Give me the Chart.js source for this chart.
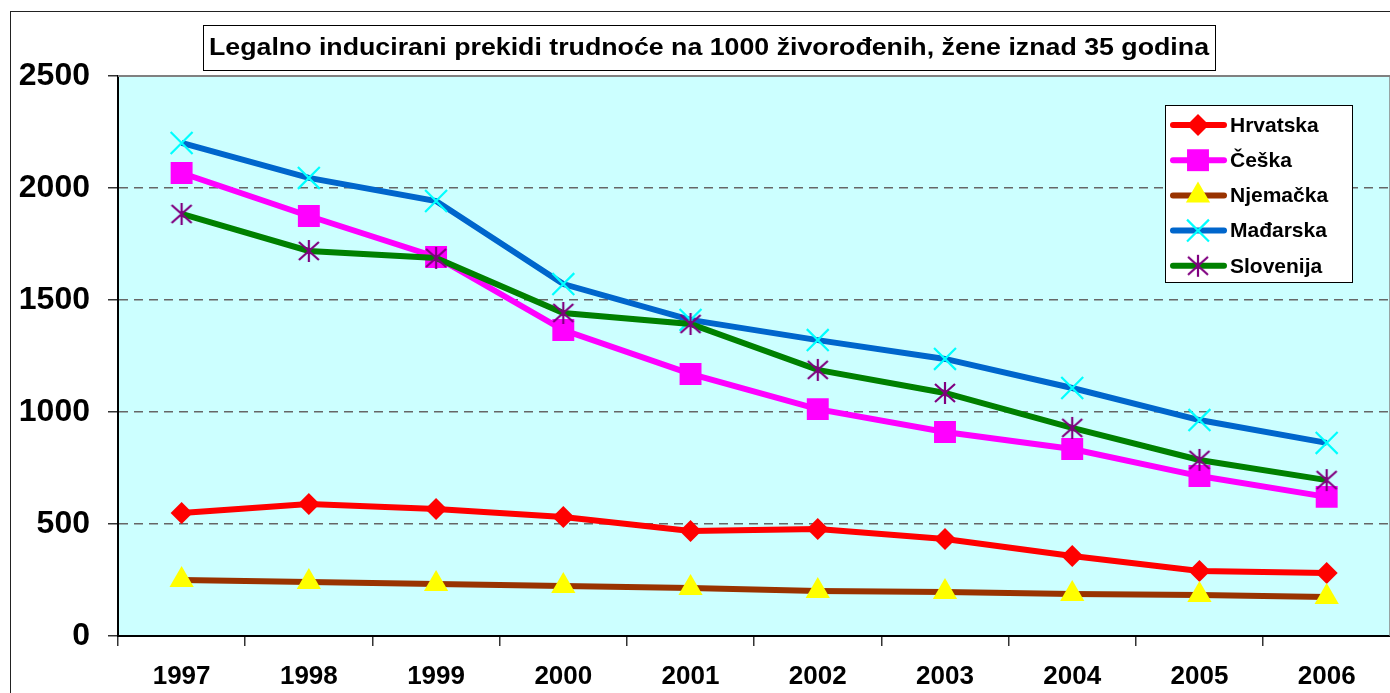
<!DOCTYPE html>
<html>
<head>
<meta charset="utf-8">
<script src="https://cdn.jsdelivr.net/npm/chart.js@4.4.0/dist/chart.umd.min.js"></script>
<style>
html,body{margin:0;padding:0;background:#fff;overflow:hidden}
#wrap{position:relative;width:1390px;height:693px;overflow:hidden}
#frame{position:absolute;left:10px;top:11px;width:1420px;height:720px;border:1.5px solid #222}
#c{position:absolute;left:0;top:0}
</style>
</head>
<body>
<div id="wrap"><div id="frame"></div><canvas id="c" width="1408" height="693"></canvas></div>
<script>
// Data
const years = ['1997','1998','1999','2000','2001','2002','2003','2004','2005','2006'];
const hrvatska  = [549, 589, 567, 531, 469, 478, 433, 357, 290, 281];
const ceska     = [2067, 1875, 1692, 1366, 1170, 1013, 911, 835, 714, 621];
const njemacka  = [250, 241, 232, 223, 214, 201, 196, 188, 183, 174];
const madarska  = [2201, 2045, 1942, 1571, 1411, 1321, 1237, 1107, 964, 862];
const slovenija = [1884, 1719, 1688, 1442, 1393, 1188, 1085, 929, 786, 696];
const yTicks = [0, 500, 1000, 1500, 2000, 2500];
const titleText = 'Legalno inducirani prekidi trudnoće na 1000 živorođenih, žene iznad 35 godina';

// Excel-like asterisk marker (vertical bar + X)
function asterisk(color){
  const c = document.createElement('canvas');
  c.width = 24; c.height = 24;
  const g = c.getContext('2d');
  g.strokeStyle = color; g.lineWidth = 2.2;
  g.beginPath();
  g.moveTo(12,1); g.lineTo(12,23);
  g.moveTo(2,3); g.lineTo(22,21);
  g.moveTo(22,3); g.lineTo(2,21);
  g.stroke();
  return c;
}

const series = [
  {label:'Hrvatska',  data:hrvatska,  line:'#FF0000', fill:'#FF0000', stroke:'#FF0000', style:'rectRot',  r:11,  bw:0},
  {label:'Češka',     data:ceska,     line:'#FF00FF', fill:'#FF00FF', stroke:'#FF00FF', style:'rect',     r:15.5,bw:0},
  {label:'Njemačka',  data:njemacka,  line:'#993300', fill:'#FFFF00', stroke:'#FFFF00', style:'triangle', r:14,  bw:0},
  {label:'Mađarska',  data:madarska,  line:'#0066CC', fill:'#00FFFF', stroke:'#00FFFF', style:'crossRot', r:15.5,bw:2.2},
  {label:'Slovenija', data:slovenija, line:'#008000', fill:'#800080', stroke:'#800080', style:asterisk('#800080'), r:11, bw:0}
];

const FONT = '"Liberation Sans", Arial, sans-serif';

const plotDeco = {
  id:'plotDeco',
  beforeDraw(chart){
    const {ctx, chartArea:a} = chart;
    ctx.save();
    ctx.fillStyle = '#CCFFFF';
    ctx.fillRect(a.left, a.top, a.right - a.left, a.bottom - a.top);
    ctx.restore();
  },
  beforeDatasetsDraw(chart){
    const {ctx, chartArea:a} = chart;
    ctx.save();
    ctx.strokeStyle = '#808080';
    ctx.lineWidth = 2;
    ctx.beginPath();
    ctx.moveTo(a.left, a.top); ctx.lineTo(a.right, a.top); ctx.lineTo(a.right, a.bottom);
    ctx.stroke();
    ctx.restore();
  },
  afterDraw(chart){
    const ctx = chart.ctx;
    ctx.save();
    // title box
    ctx.fillStyle = '#fff';
    ctx.fillRect(203, 25, 1012, 45);
    ctx.strokeStyle = '#000'; ctx.lineWidth = 1;
    ctx.strokeRect(203.5, 25.5, 1012, 45);
    ctx.fillStyle = '#000';
    ctx.font = 'bold 24px ' + FONT;
    ctx.textAlign = 'center'; ctx.textBaseline = 'middle';
    const tw = ctx.measureText(titleText).width;
    ctx.save();
    ctx.translate(709, 48);
    ctx.scale(1000 / tw, 1);
    ctx.fillText(titleText, 0, 0);
    ctx.restore();
    // legend box
    ctx.fillStyle = '#fff';
    ctx.fillRect(1165, 105, 187, 177);
    ctx.strokeStyle = '#000'; ctx.lineWidth = 1;
    ctx.strokeRect(1165.5, 105.5, 187, 177);
    ctx.font = 'bold 21px ' + FONT;
    ctx.textAlign = 'left';
    series.forEach((s, i) => {
      const y = 125 + i * 35.2;
      ctx.strokeStyle = s.line; ctx.lineWidth = 6; ctx.lineCap = 'round';
      ctx.beginPath(); ctx.moveTo(1173, y); ctx.lineTo(1224, y); ctx.stroke();
      ctx.lineCap = 'butt';
      ctx.fillStyle = s.fill; ctx.strokeStyle = s.stroke; ctx.lineWidth = s.bw;
      Chart.helpers.drawPoint(ctx, {pointStyle:s.style, radius:s.r, rotation:0, borderWidth:s.bw}, 1198, y);
      ctx.fillStyle = '#000';
      ctx.fillText(s.label, 1230, y + 1);
    });
    ctx.restore();
  }
};

new Chart(document.getElementById('c'), {
  type:'line',
  data:{
    labels:years,
    datasets:series.map((s, i) => ({
      label:s.label,
      data:s.data,
      borderColor:s.line,
      borderWidth:6,
      tension:0,
      pointStyle:s.style,
      pointRadius:s.r,
      pointHoverRadius:s.r,
      pointBackgroundColor:s.fill,
      pointBorderColor:s.stroke,
      pointBorderWidth:s.bw,
      order:series.length - i
    }))
  },
  options:{
    responsive:false,
    animation:false,
    layout:{padding:{left:0, top:76, right:2, bottom:0}},
    plugins:{legend:{display:false}, title:{display:false}, tooltip:{enabled:false}},
    scales:{
      x:{
        type:'category',
        offset:true,
        grid:{offset:true, drawOnChartArea:false, tickLength:10, color:'#333', lineWidth:1.5},
        border:{color:'#000', width:2},
        ticks:{color:'#000', padding:15, maxRotation:0, font:{family:FONT, size:26, weight:'bold'}},
        afterFit(s){ s.height = 57; s.paddingLeft = 0; s.paddingRight = 0; }
      },
      y:{
        min:0, max:2500,
        afterBuildTicks(s){ s.ticks = yTicks.map(v => ({value:v})); },
        grid:{
          tickLength:10,
          color:c => (c.tick && (c.tick.value === 0 || c.tick.value === 2500)) ? 'rgba(0,0,0,0)' : '#666',
          tickColor:'#333',
          lineWidth:1.5,
          tickBorderDash:[]
        },
        border:{color:'#000', width:2, dash:[9,6]},
        ticks:{color:'#000', padding:18, callback:v => String(v), font:{family:FONT, size:32, weight:'bold'}},
        afterFit(s){ s.width = 118; s.paddingTop = 0; s.paddingBottom = 0; }
      }
    }
  },
  plugins:[plotDeco]
});
</script>
</body>
</html>
